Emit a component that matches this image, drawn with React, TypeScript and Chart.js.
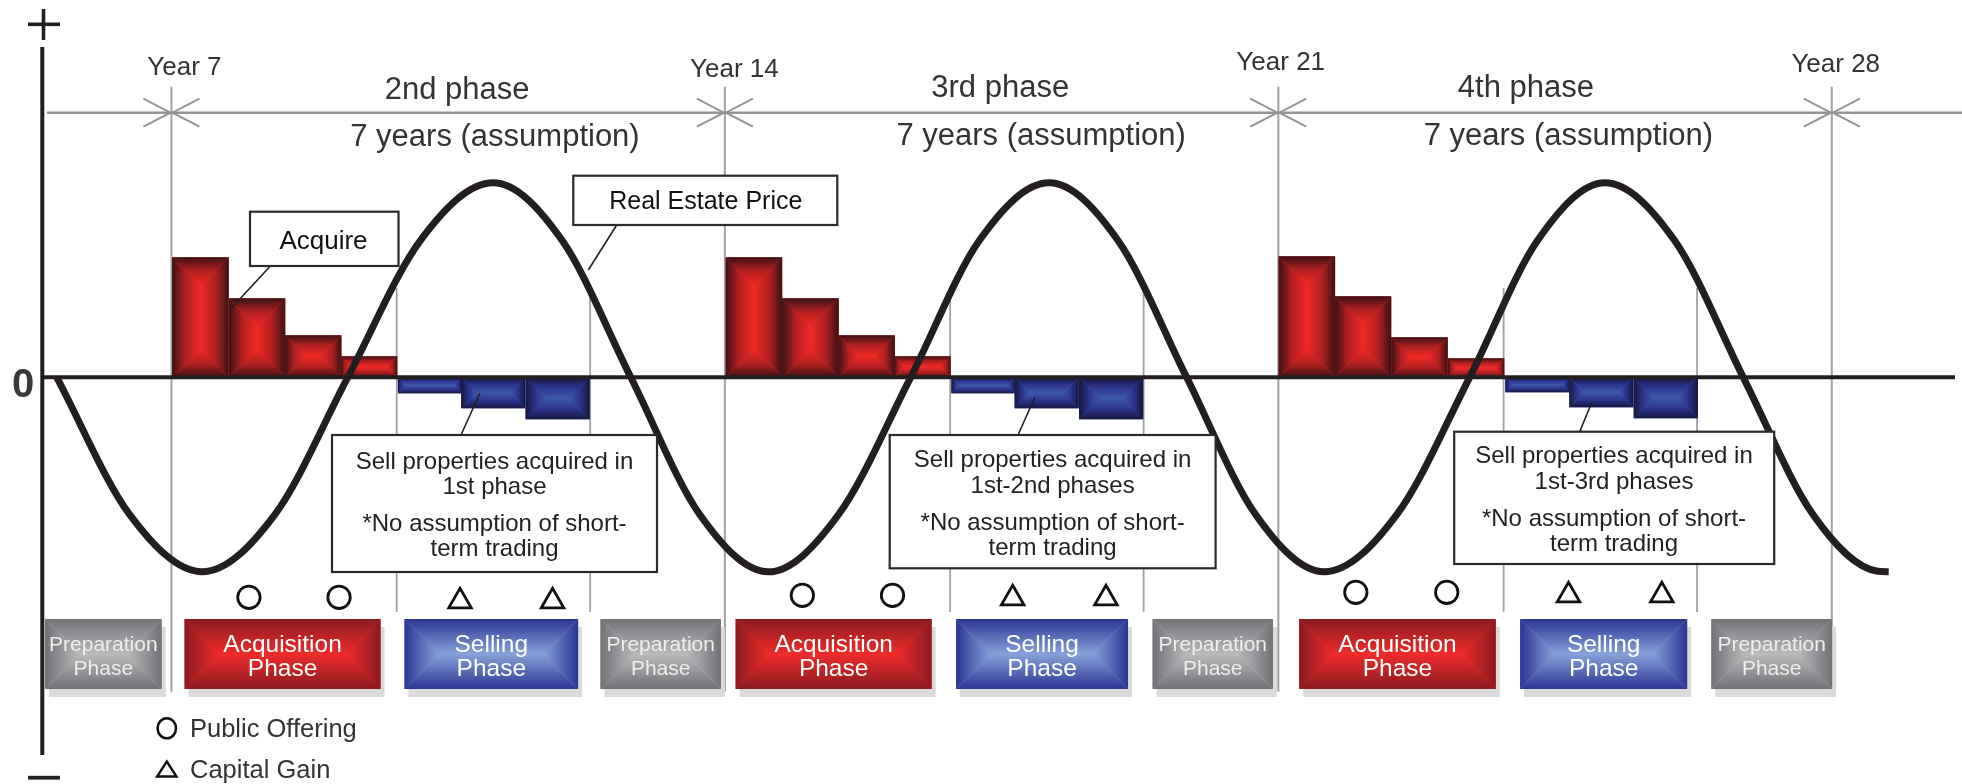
import React, { useEffect, useRef } from 'react';
import { Chart, registerables } from 'chart.js';

Chart.register(...registerables);

const FONT = '"Liberation Sans", Arial, Helvetica, sans-serif';

// ---------- scales (x in years, y in relative value units) ----------
const xMin = 5.363;
const xMax = 29.447;
const yMin = -37.77;
const yMax = 33.03;

// ---------- year marks ----------
const yearMarks = [7, 14, 21, 28];
const yearLabels = ['Year 7', 'Year 14', 'Year 21', 'Year 28'];
const yearLabelCenters = [7.164, 14.12, 21.03, 28.05];
const yearLabelBaselines = [75, 76.7, 70, 71.7];

// ---------- phase titles ----------
const phaseTitles = ['2nd phase', '3rd phase', '4th phase'];
const phaseTitleCenters = [10.613, 17.482, 24.131];
const phaseTitleBaselines = [98.5, 97, 97];
const durationLabel = '7 years (assumption)';
const durationCenters = [11.092, 18.0, 24.668];
const durationBaselines = [146, 144.5, 145];

// sub-phase boundaries (acquisition/selling/preparation)
const subLines = [9.849, 12.296, 16.849, 19.296, 23.849, 26.296];

// ---------- acquisitions (red bars) ----------
const acquireX = [7.367, 8.082, 8.792, 9.498, 14.367, 15.082, 15.792, 16.498, 21.36, 22.07, 22.785, 23.5];
const acquireY = [12.0, 7.9, 4.2, 2.1, 12.0, 7.9, 4.2, 2.1, 12.1, 8.1, 4.0, 1.9];

// ---------- sales (blue bars) ----------
const sellX = [10.27, 11.07, 11.885, 17.27, 18.07, 18.885, 24.277, 25.085, 25.9];
const sellY = [-1.6, -3.1, -4.2, -1.6, -3.1, -4.2, -1.5, -3.0, -4.1];

// ---------- real estate price curve ----------
const priceX = [5.55, 6.47, 7.39, 8.31, 9.23, 10.15, 11.07, 11.94, 12.81, 13.68, 14.55, 15.44, 16.35, 17.22, 18.1, 18.97, 19.84, 20.71, 21.58, 22.5, 23.42, 24.28, 25.13, 26.01, 26.88, 27.76, 28.58, 28.72];
const priceY = [0, -13.7, -19.45, -13.7, 0, 13.7, 19.45, 13.7, 0, -13.7, -19.45, -13.7, 0, 13.7, 19.45, 13.7, 0, -13.7, -19.45, -13.7, 0, 13.7, 19.45, 13.7, 0, -13.7, -19.4, -19.45];

// ---------- markers ----------
const offeringX = [7.98, 9.12, 14.98, 16.12, 21.98, 23.13];
const offeringY = [-22.0, -22.0, -21.8, -21.8, -21.5, -21.5];
const gainX = [10.65, 11.82, 17.64, 18.82, 24.67, 25.85];
const gainY = [-22.4, -22.4, -22.1, -22.1, -21.8, -21.8];

// ---------- phase boxes ----------
const phaseBoxStart = [5.4, 7.166, 9.947, 12.426, 14.136, 16.924, 19.409, 21.264, 24.058, 26.475];
const phaseBoxEnd = [6.877, 9.645, 12.144, 13.95, 16.615, 19.099, 20.932, 23.75, 26.171, 28.004];
const phaseBoxKind = ['prep', 'acq', 'sell', 'prep', 'acq', 'sell', 'prep', 'acq', 'sell', 'prep'];
const phaseBoxText: Record<string, string[]> = {
  prep: ['Preparation', 'Phase'],
  acq: ['Acquisition', 'Phase'],
  sell: ['Selling', 'Phase'],
};

// ---------- callouts ----------
const sellNoteLine2 = ['1st phase', '1st-2nd phases', '1st-3rd phases'];

type Stops = [number, string][];

function rectGradient(ctx: CanvasRenderingContext2D, x: number, y: number, w: number, h: number, stops: Stops) {
  const m = Math.min(w, h) / 2;
  const mk = (x0: number, y0: number, x1: number, y1: number) => {
    const g = ctx.createLinearGradient(x0, y0, x1, y1);
    stops.forEach(([o, c]) => g.addColorStop(o, c));
    return g;
  };
  const poly = (pts: number[], fill: CanvasGradient | string) => {
    ctx.beginPath();
    ctx.moveTo(pts[0], pts[1]);
    for (let i = 2; i < pts.length; i += 2) ctx.lineTo(pts[i], pts[i + 1]);
    ctx.closePath();
    ctx.fillStyle = fill;
    ctx.fill();
  };
  const ix0 = x + m, ix1 = x + w - m, iy0 = y + m, iy1 = y + h - m;
  ctx.save();
  ctx.fillStyle = stops[stops.length - 1][1];
  ctx.fillRect(x, y, w, h);
  poly([x, y, x + w, y, ix1, iy0, ix0, iy0], mk(0, y, 0, y + m));
  poly([x, y + h, x + w, y + h, ix1, iy1, ix0, iy1], mk(0, y + h, 0, y + h - m));
  poly([x, y, ix0, iy0, ix0, iy1, x, y + h], mk(x, 0, x + m, 0));
  poly([x + w, y, ix1, iy0, ix1, iy1, x + w, y + h], mk(x + w, 0, x + w - m, 0));
  ctx.restore();
}

const RED_BAR: Stops = [[0, '#3b1214'], [0.45, '#ad1f1f'], [1, '#f02a26']];
const BLUE_BAR: Stops = [[0, '#16163c'], [0.45, '#2a3288'], [1, '#3d58aa']];
const BOX_STYLE: Record<string, Stops> = {
  acq: [[0, '#8a1a1f'], [1, '#f02c2b']],
  sell: [[0, '#2a3592'], [1, '#86a2d9']],
  prep: [[0, '#717275'], [1, '#b9babc']],
};

function txt(ctx: CanvasRenderingContext2D, s: string, x: number, y: number, size: number, color: string, align: CanvasTextAlign = 'center', weight = 'normal') {
  ctx.font = `${weight} ${size}px ${FONT}`;
  ctx.fillStyle = color;
  ctx.textAlign = align;
  ctx.textBaseline = 'alphabetic';
  ctx.fillText(s, x, y);
}

function line(ctx: CanvasRenderingContext2D, pts: number[], color: string, width: number) {
  ctx.beginPath();
  ctx.moveTo(pts[0], pts[1]);
  for (let i = 2; i < pts.length; i += 2) ctx.lineTo(pts[i], pts[i + 1]);
  ctx.strokeStyle = color;
  ctx.lineWidth = width;
  ctx.stroke();
}

const GREY = '#9fa1a4';
const DARK = '#231f20';
const TEXT = '#333333';

const decorPlugin = {
  id: 'decor',
  beforeDatasetsDraw(chart: any) {
    const ctx: CanvasRenderingContext2D = chart.ctx;
    const xs = (v: number) => chart.scales.x.getPixelForValue(v);
    ctx.save();
    ctx.lineCap = 'butt';

    // year grid lines
    yearMarks.forEach((yr) => line(ctx, [xs(yr), 86.7, xs(yr), 691.7], GREY, 2));
    // sub-phase lines
    subLines.forEach((yr) => line(ctx, [xs(yr), 288, xs(yr), 612], GREY, 1.8));

    // dimension line with chevrons
    const dimY = 112.7;
    line(ctx, [47, dimY, 1962, dimY], '#929497', 2.4);
    yearMarks.forEach((yr) => {
      const X = xs(yr);
      line(ctx, [X - 28, dimY - 14, X - 1, dimY, X - 28, dimY + 14], '#929497', 2);
      line(ctx, [X + 28, dimY - 14, X + 1, dimY, X + 28, dimY + 14], '#929497', 2);
    });

    // year labels
    yearLabels.forEach((s, i) => txt(ctx, s, xs(yearLabelCenters[i]), yearLabelBaselines[i], 26, TEXT));
    // phase titles
    phaseTitles.forEach((s, i) => txt(ctx, s, xs(phaseTitleCenters[i]), phaseTitleBaselines[i], 31, TEXT));
    durationCenters.forEach((c, i) => txt(ctx, durationLabel, xs(c), durationBaselines[i], 31, TEXT));

    // phase boxes
    const by0 = 619, by1 = 689;
    phaseBoxStart.forEach((s, i) => {
      const x0 = xs(s), x1 = xs(phaseBoxEnd[i]);
      ctx.fillStyle = '#dadada';
      ctx.fillRect(x0 + 4, by0 + 8, x1 - x0, by1 - by0);
    });
    phaseBoxStart.forEach((s, i) => {
      const x0 = xs(s), x1 = xs(phaseBoxEnd[i]);
      const kind = phaseBoxKind[i];
      rectGradient(ctx, x0, by0, x1 - x0, by1 - by0, BOX_STYLE[kind]);
      const [l1, l2] = phaseBoxText[kind];
      const cx = (x0 + x1) / 2;
      if (kind === 'prep') {
        txt(ctx, l1, cx, 650.5, 21, '#eeeeee');
        txt(ctx, l2, cx, 675, 21, '#eeeeee');
      } else {
        txt(ctx, l1, cx, 651.5, 24.5, '#ffffff');
        txt(ctx, l2, cx, 675.5, 24.5, '#ffffff');
      }
    });

    // axis: + and - signs, vertical axis line, "0"
    line(ctx, [43.5, 9, 43.5, 40], DARK, 3.6);
    line(ctx, [28, 24.3, 60, 24.3], DARK, 3.6);
    line(ctx, [28, 777.7, 60, 777.7], DARK, 3.8);
    line(ctx, [42.3, 47, 42.3, 755], DARK, 4);
    txt(ctx, '0', 23, 397, 40, '#3a3a3a', 'center', 'bold');

    // legend
    ctx.beginPath();
    ctx.ellipse(166.8, 728.3, 9.2, 10, 0, 0, Math.PI * 2);
    ctx.strokeStyle = '#111';
    ctx.lineWidth = 2.6;
    ctx.stroke();
    txt(ctx, 'Public Offering', 190, 737.3, 25.5, TEXT, 'left');
    ctx.beginPath();
    ctx.moveTo(166.8, 761.5);
    ctx.lineTo(176.5, 776.5);
    ctx.lineTo(157.1, 776.5);
    ctx.closePath();
    ctx.lineWidth = 2.4;
    ctx.lineJoin = 'miter';
    ctx.stroke();
    txt(ctx, 'Capital Gain', 190, 777.7, 25.5, TEXT, 'left');
    ctx.restore();
  },
  afterDatasetDraw(chart: any, args: any) {
    const ds = chart.data.datasets[args.index];
    const ctx: CanvasRenderingContext2D = chart.ctx;
    if (ds._fill) {
      ctx.save();
      args.meta.data.forEach((el: any) => {
        const p = el.getProps(['x', 'y', 'base', 'width'], true);
        const top = Math.min(p.y, p.base);
        const h = Math.abs(p.base - p.y);
        rectGradient(ctx, p.x - p.width / 2, top, p.width, h, ds._fill);
      });
      ctx.restore();
    }
    if (ds._zeroLine) {
      const y0 = chart.scales.y.getPixelForValue(0);
      ctx.save();
      line(ctx, [42.3, y0, 1955, y0], DARK, 4);
      ctx.restore();
    }
  },
  afterDatasetsDraw(chart: any) {
    const ctx: CanvasRenderingContext2D = chart.ctx;
    ctx.save();
    const box = (x0: number, y0: number, x1: number, y1: number) => {
      ctx.fillStyle = '#ffffff';
      ctx.fillRect(x0, y0, x1 - x0, y1 - y0);
      ctx.strokeStyle = '#2b2b2b';
      ctx.lineWidth = 2.2;
      ctx.strokeRect(x0, y0, x1 - x0, y1 - y0);
    };
    // Acquire
    line(ctx, [270.4, 266, 229.6, 310], DARK, 1.6);
    box(250, 211.7, 398.5, 266);
    txt(ctx, 'Acquire', 323.5, 248.5, 26, '#111');
    // Real Estate Price
    line(ctx, [616.7, 225, 588.3, 270], DARK, 1.6);
    box(573.3, 175.7, 837.3, 225);
    txt(ctx, 'Real Estate Price', 705.8, 208.5, 25, '#111');

    // sell notes
    const notes = [
      { x0: 332, y0: 435, x1: 657, y1: 572, cx: 494.5, lx: [461, 435, 480, 393], bl: [468.5, 493.5, 531, 556] },
      { x0: 889.7, y0: 435, x1: 1215.6, y1: 568.3, cx: 1052.6, lx: [1018, 435, 1035, 397], bl: [467, 492.7, 530, 555] },
      { x0: 1454.2, y0: 431.7, x1: 1774.2, y1: 564, cx: 1614, lx: [1579.7, 431.7, 1591.6, 402.7], bl: [463, 488.5, 526, 550.5] },
    ];
    notes.forEach((n, i) => {
      line(ctx, n.lx, DARK, 1.6);
      box(n.x0, n.y0, n.x1, n.y1);
      const lines = ['Sell properties acquired in', sellNoteLine2[i], '*No assumption of short-', 'term trading'];
      lines.forEach((s, k) => txt(ctx, s, n.cx, n.bl[k], 24, '#222'));
    });
    ctx.restore();
  },
};

export default function App() {
  const ref = useRef<HTMLCanvasElement>(null);
  useEffect(() => {
    const canvas = ref.current;
    if (!canvas) return;
    const chart = new Chart(canvas, {
      type: 'bar',
      data: {
        datasets: [
          {
            type: 'line',
            label: 'Real Estate Price',
            data: priceX.map((x, i) => ({ x, y: priceY[i] })),
            borderColor: DARK,
            borderWidth: 7,
            pointRadius: 0,
            cubicInterpolationMode: 'monotone',
            fill: false,
            order: 0,
          } as any,
          {
            type: 'line',
            label: 'Public Offering',
            data: offeringX.map((x, i) => ({ x, y: offeringY[i] })),
            showLine: false,
            pointStyle: 'circle',
            pointRadius: 11.2,
            pointBorderWidth: 2.8,
            pointBackgroundColor: '#ffffff',
            pointBorderColor: '#111111',
            order: 1,
          } as any,
          {
            type: 'line',
            label: 'Capital Gain',
            data: gainX.map((x, i) => ({ x, y: gainY[i] })),
            showLine: false,
            pointStyle: 'triangle',
            pointRadius: 13,
            pointBorderWidth: 2.8,
            pointBackgroundColor: '#ffffff',
            pointBorderColor: '#111111',
            order: 2,
          } as any,
          {
            type: 'bar',
            label: 'Acquire',
            data: acquireX.map((x, i) => ({ x, y: acquireY[i] })),
            backgroundColor: 'rgba(0,0,0,0)',
            borderWidth: 0,
            barThickness: 56.6,
            stack: 'g',
            order: 3,
            _fill: RED_BAR,
            _zeroLine: true,
          } as any,
          {
            type: 'bar',
            label: 'Sell',
            data: sellX.map((x, i) => ({ x, y: sellY[i] })),
            backgroundColor: 'rgba(0,0,0,0)',
            borderWidth: 0,
            barThickness: 64.2,
            stack: 'g',
            order: 4,
            _fill: BLUE_BAR,
          } as any,
        ],
      },
      options: {
        responsive: false,
        animation: false,
        devicePixelRatio: 1,
        events: [],
        layout: { padding: { left: 42, right: 7, top: 47, bottom: 29 } },
        plugins: { legend: { display: false }, tooltip: { enabled: false } },
        scales: {
          x: { type: 'linear', min: xMin, max: xMax, display: false, offset: false },
          y: { type: 'linear', min: yMin, max: yMax, display: false, stacked: false },
        },
      } as any,
      plugins: [decorPlugin as any],
    });
    return () => chart.destroy();
  }, []);

  return (
    <div style={{ position: 'absolute', left: 0, top: 0, width: 1962, height: 784, background: '#ffffff' }}>
      <canvas ref={ref} width={1962} height={784} style={{ display: 'block' }} />
    </div>
  );
}
